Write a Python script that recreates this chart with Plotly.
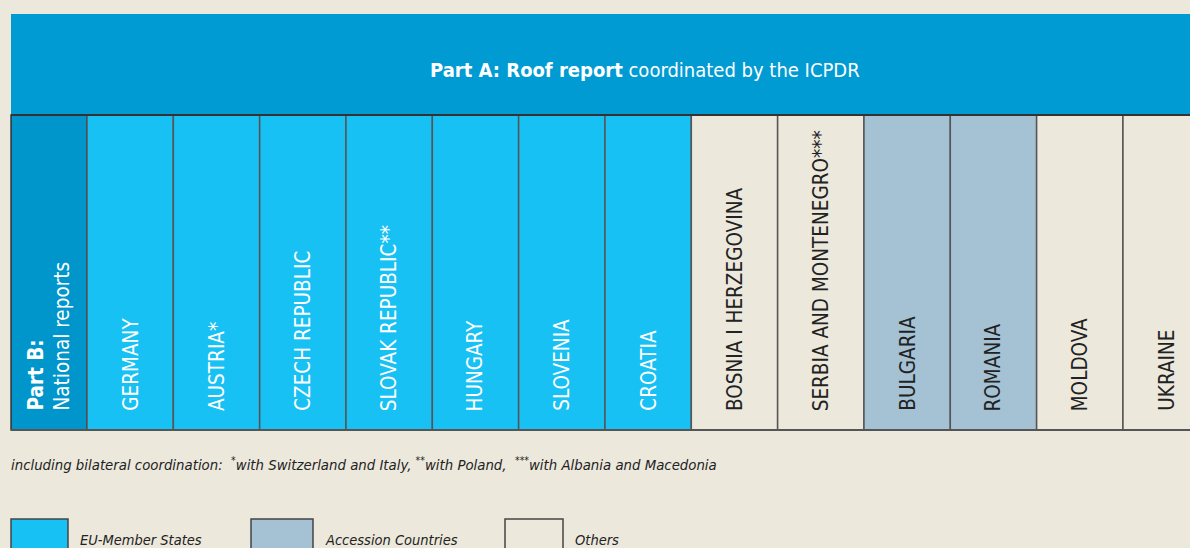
import plotly.graph_objects as go

# ---- data ----
countries = ["GERMANY", "AUSTRIA*", "CZECH REPUBLIC", "SLOVAK REPUBLIC**", "HUNGARY",
             "SLOVENIA", "CROATIA", "BOSNIA I HERZEGOVINA", "SERBIA AND MONTENEGRO***",
             "BULGARIA", "ROMANIA", "MOLDOVA", "UKRAINE"]
groups = ["EU", "EU", "EU", "EU", "EU", "EU", "EU", "Others", "Others",
          "Accession", "Accession", "Others", "Others"]
legend_labels = ["EU-Member States", "Accession Countries", "Others"]
legend_groups = ["EU", "Accession", "Others"]
header_bold = "Part A: Roof report"
header_rest = " coordinated by the ICPDR"
partb_bold = "Part B:"
partb_rest = "National reports"
footnote = ("including bilateral coordination:  <sup>*</sup>with Switzerland and Italy, "
            "<sup>**</sup>with Poland,  <sup>***</sup>with Albania and Macedonia")

# ---- style ----
BG = "#ECE8DC"
HEADER = "#009BD3"
PARTB = "#0096CC"
fills = {"EU": "#17C1F3", "Accession": "#A4C2D4", "Others": "#ECE8DC"}
textcol = {"EU": "white", "Accession": "#222222", "Others": "#222222"}
BORDER = "#555555"
FONT = "DejaVu Sans Condensed, Liberation Sans Narrow, sans-serif"

W, H = 1190, 548
col_px = 86.33      # pixel width of one column
x0_px = 87          # left edge of first country column
TOP, BOT = 115, 430

fig = go.Figure()

# Part B column
fig.add_trace(go.Bar(x=[-0.44], y=[BOT - TOP], base=[TOP], width=[0.88],
                     marker=dict(color=PARTB, line=dict(color="#333333", width=1.5)),
                     hoverinfo="skip", showlegend=False))

# Country columns
for i, (c, g) in enumerate(zip(countries, groups)):
    fig.add_trace(go.Bar(x=[i + 0.5], y=[BOT - TOP], base=[TOP], width=[1],
                         marker=dict(color=fills[g], line=dict(color=BORDER, width=1.5)),
                         hoverinfo="skip", showlegend=False))
    fig.add_annotation(x=i + 0.5, y=413, xref="x", yref="y", text=c, textangle=-90,
                       showarrow=False, xanchor="center", yanchor="bottom",
                       font=dict(family=FONT, size=20.5, color=textcol[g]))

fig.add_annotation(x=-0.44, y=413, xref="x", yref="y",
                   text=f"<b>{partb_bold}</b><br>{partb_rest}", textangle=-90,
                   showarrow=False, xanchor="center", yanchor="bottom", align="left",
                   font=dict(family=FONT, size=20.5, color="white"))

# Header bar
fig.add_shape(type="rect", xref="paper", yref="y", x0=11 / W, x1=1.02, y0=14, y1=TOP,
              fillcolor=HEADER, line=dict(width=0), layer="below")
fig.add_shape(type="line", xref="paper", yref="y", x0=11 / W, x1=1.02, y0=TOP, y1=TOP,
              line=dict(color="#333333", width=2))
fig.add_shape(type="line", xref="paper", yref="y", x0=11 / W, x1=1.02, y0=BOT, y1=BOT,
              line=dict(color=BORDER, width=2))
fig.add_annotation(x=645 / W, y=70, xref="paper", yref="y",
                   text=f"<b>{header_bold}</b>{header_rest}", showarrow=False,
                   xanchor="center", yanchor="middle",
                   font=dict(family=FONT, size=20, color="white"))

# Footnote
fig.add_annotation(x=9 / W, y=463, xref="paper", yref="y", text=f"<i>{footnote}</i>",
                   showarrow=False, xanchor="left", yanchor="middle",
                   font=dict(family=FONT, size=14.8, color="#222222"))

# Legend
leg_x = [11, 251, 505]
leg_w = [57, 62, 58]
for lx, lw, lab, g in zip(leg_x, leg_w, legend_labels, legend_groups):
    fig.add_shape(type="rect", xref="paper", yref="y", x0=lx / W, x1=(lx + lw) / W,
                  y0=519, y1=552, fillcolor=fills[g], line=dict(color="#444444", width=1.5))
    fig.add_annotation(x=(lx + lw + 10) / W, y=540, xref="paper", yref="y",
                       text=f"<i>{lab}</i>", showarrow=False, xanchor="left",
                       yanchor="middle", font=dict(family=FONT, size=14.5, color="#222222"))

fig.update_layout(
    width=W, height=H, margin=dict(l=0, r=0, t=0, b=0),
    paper_bgcolor=BG, plot_bgcolor=BG, barmode="overlay",
    xaxis=dict(range=[-x0_px / col_px, (W - x0_px) / col_px], visible=False, fixedrange=True),
    yaxis=dict(range=[H, 0], visible=False, fixedrange=True),
    showlegend=False,
)

fig.write_html("out.html", config={"displayModeBar": False},
               post_script="document.body.style.margin='0';"
               "document.body.style.background='" + BG + "';")
